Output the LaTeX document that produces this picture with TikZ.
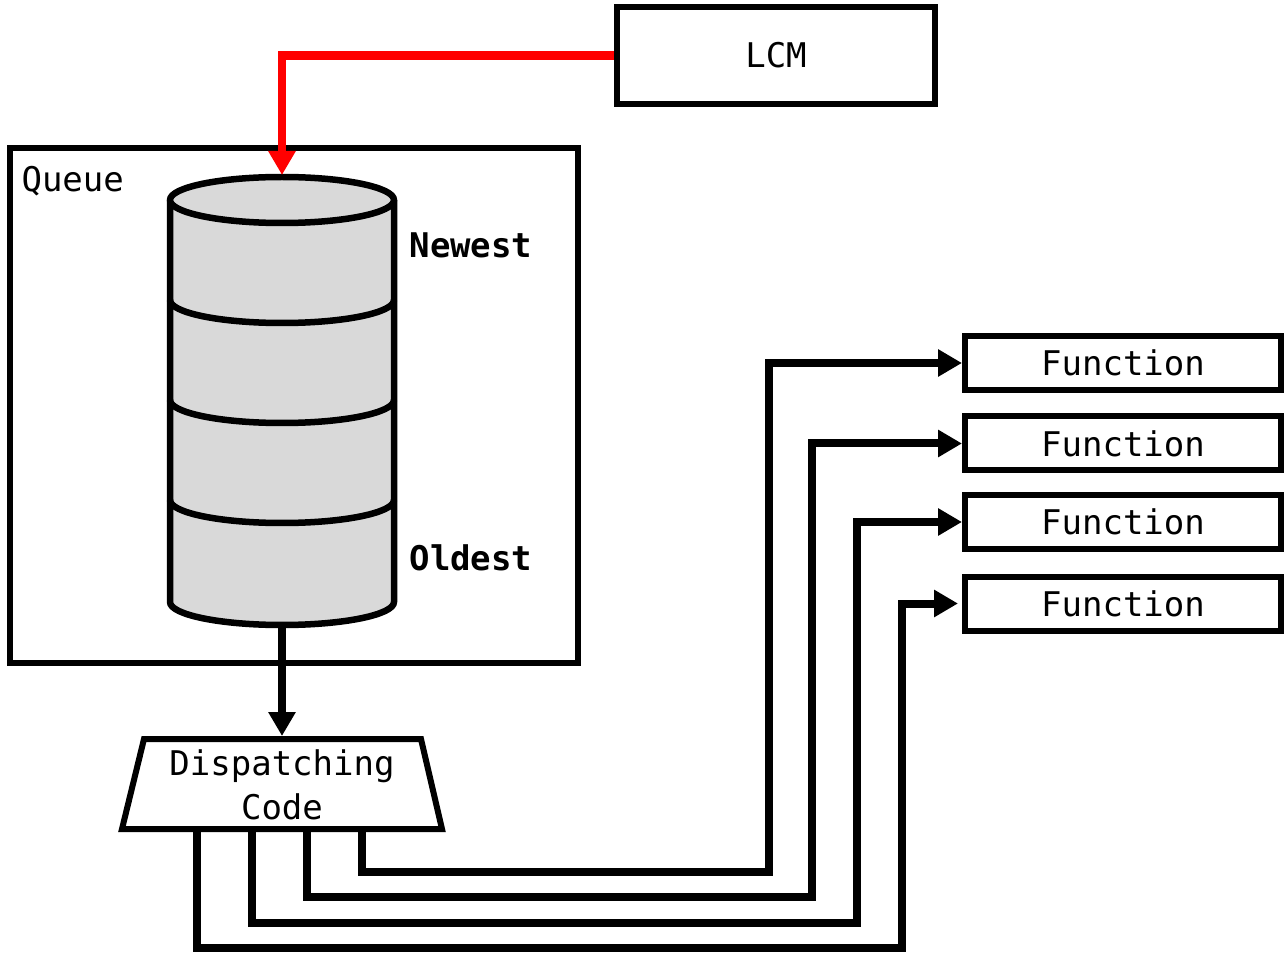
\documentclass[tikz,border=0pt]{standalone}
\usepackage{fontspec}
\setmonofont{DejaVu Sans Mono}
\usetikzlibrary{arrows.meta}
\definecolor{cylgray}{HTML}{D9D9D9}
\begin{document}
\begin{tikzpicture}[x=1pt,y=-1pt,
  every node/.style={font=\ttfamily\fontsize{34}{44}\selectfont},
  box/.style={draw,line width=6pt,rectangle,inner sep=0pt},
  funcbox/.style={box,minimum width=316pt,minimum height=54pt},
  conn/.style={line width=8pt,-{Triangle[length=24pt,width=26pt]}},
  redconn/.style={line width=8.5pt,red,-{Triangle[length=24pt,width=26pt]}},
  cylline/.style={line width=6.5pt,line join=round},
  sidelabel/.style={anchor=base west,font=\ttfamily\bfseries\fontsize{34}{44}\selectfont}
]
\useasboundingbox (0,0) rectangle (1286,957);

% LCM box
\node[box,minimum width=318pt,minimum height=97pt] (lcm) at (776,55.5) {LCM};

% Queue box
\node[box,minimum width=568pt,minimum height=515pt] (queue) at (294,405.5) {};
\node[anchor=base west] (qlabel) at (18,192) {Queue};

% Cylinder
\fill[cylgray] (170,200) -- (170,602) arc[start angle=180,end angle=360,x radius=112pt,y radius=23pt] -- (394,200) -- cycle;
\draw[cylline] (170,200) -- (170,602) arc[start angle=180,end angle=360,x radius=112pt,y radius=23pt] -- (394,200);
\foreach \yy in {300,400,500}{
  \draw[cylline] (170,\yy) arc[start angle=180,end angle=360,x radius=112pt,y radius=23pt];
}
\draw[cylline,fill=cylgray] (282,200) ellipse[x radius=112pt,y radius=23pt];
\coordinate (cyltop) at (282,175);
\coordinate (cylbot) at (282,625);

\node[sidelabel] (newest) at (406,258) {Newest};
\node[sidelabel] (oldest) at (406,570) {Oldest};

% Dispatching trapezoid
\draw[line width=6pt,line join=miter] (144,739) -- (421,739) -- (442,829) -- (122,829) -- cycle;
\coordinate (disptop) at (282,736);
\node[align=center] (disp) at (282,785) {Dispatching\\Code};

% Function boxes
\node[funcbox] (f1) at (1123,363) {Function};
\node[funcbox] (f2) at (1123,443.5) {Function};
\node[funcbox] (f3) at (1123,522) {Function};
\node[funcbox] (f4) at (1123,603.5) {Function};

% Connectors
\draw[redconn] (lcm.west) -| (cyltop);
\draw[conn] (cylbot) -- (disptop);

\coordinate (d1) at (362,829);
\coordinate (d2) at (307,829);
\coordinate (d3) at (252,829);
\coordinate (d4) at (197,829);
\coordinate (c1) at (769,872);
\coordinate (c2) at (812,897);
\coordinate (c3) at (857,923);
\coordinate (c4) at (902,948);

\draw[conn] (d1) |- (c1) |- (f1.west);
\draw[conn] (d2) |- (c2) |- (f2.west);
\draw[conn] (d3) |- (c3) |- (f3.west);
\draw[conn] (d4) |- (c4) |- ([xshift=-4pt]f4.west);
\end{tikzpicture}
\end{document}
